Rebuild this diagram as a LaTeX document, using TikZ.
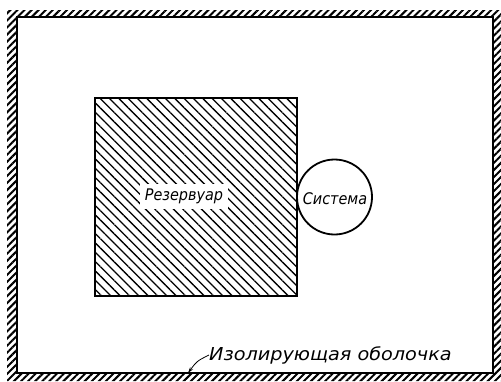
\documentclass[tikz,border=0pt]{standalone}
\usepackage{fontspec}
\setmainfont{DejaVu Sans Condensed}
\usetikzlibrary{patterns.meta, arrows.meta}
\tikzset{
	reservoirnode/.style={
			rectangle,
			draw=black,
			line width=1.8pt,
			minimum width=202pt,
			minimum height=198pt,
			inner sep=0pt,
			pattern={Lines[angle=-45, distance=6.6pt, line width=1.3pt]}
		},
	systemnode/.style={
			circle,
			draw=black,
			line width=1.8pt,
			fill=white,
			minimum size=75pt,
			inner sep=0pt
		},
	labelnode/.style={
			font=\itshape\fontsize{16}{16}\selectfont,
			inner sep=0pt,
			text=black
		},
	shellnode/.style={
			font=\itshape\fontsize{17.8}{18}\selectfont,
			inner sep=0pt,
			xscale=1.2,
			text=black
		},
	shellband/.style={
			pattern={Lines[angle=45, distance=5pt, line width=2pt]},
			even odd rule
		}
}

\begin{document}
\begin{tikzpicture}[x=1pt, y=-1pt]
\useasboundingbox (0,0) rectangle (501,381);

% insulating shell
\fill[shellband] (7,10) rectangle (501,381) (17,17) rectangle (493,373);
\draw[line width=1.8pt] (17,17) rectangle (493,373);

\node[reservoirnode] (res) at (196,197) {};
\node[labelnode, fill=white, inner sep=5pt] (reslabel) at (184,196) {Резервуар};

\node[systemnode] (sys) at (334.5,197) {};
\node[labelnode] (syslabel) at (335,199) {Система};

\node[shellnode, anchor=west] (shell) at (209,355) {Изолирующая оболочка};
\coordinate (shelltip) at (188,373);
\draw[line width=0.8pt, -{Stealth[length=6pt, width=3.5pt]}] (shell.west) .. controls (197,361) .. (shelltip);

\end{tikzpicture}
\end{document}
